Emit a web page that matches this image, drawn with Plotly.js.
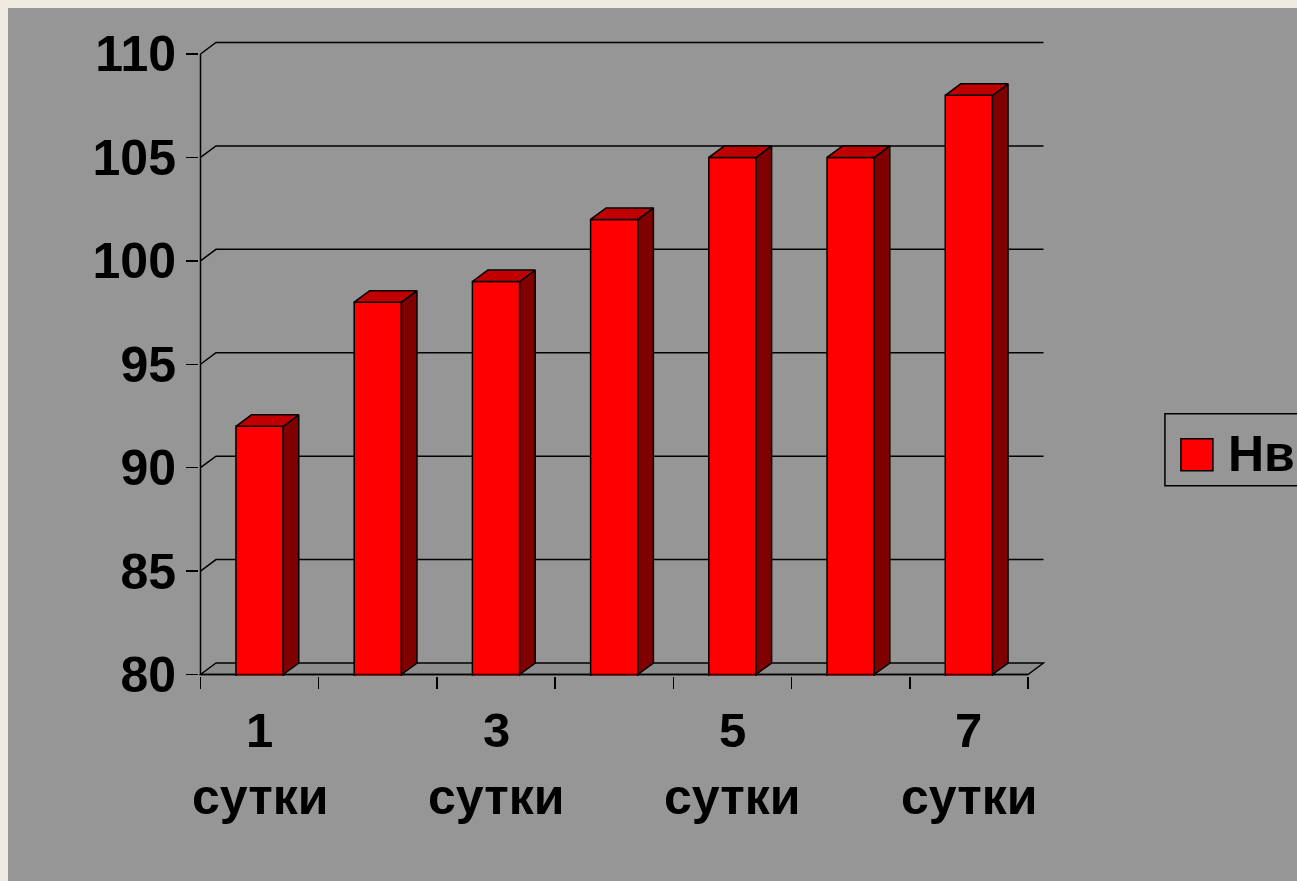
<!DOCTYPE html>
<html>
<head>
<meta charset="utf-8">
<script src="https://cdn.plot.ly/plotly-3.0.1.min.js"></script>
<style>
  html, body { margin: 0; padding: 0; background: #EEECE1; width: 1297px; height: 881px; overflow: hidden; }
  #chart { position: absolute; left: 8px; top: 8px; width: 1289px; height: 873px; }
</style>
</head>
<body>
<div id="chart"></div>
<script>
// ---- data ----
const categories = ['1 сутки', '2 сутки', '3 сутки', '4 сутки', '5 сутки', '6 сутки', '7 сутки'];
const values = [92, 98, 99, 102, 105, 105, 108];
const seriesName = 'Нв';
const yTickValues = [80, 85, 90, 95, 100, 105, 110];
const labelledCategories = [0, 2, 4, 6];

// ---- geometry (page pixels) ----
const OFF = 8, DIV_W = 1289, DIV_H = 873;
const FRONT_LEFT = 200, FRONT_RIGHT = 1028;   // x of category range edges
const Y_BOTTOM = 675, Y_TOP = 54;             // y of min / max tick
const DEPTH_X = 15.5, DEPTH_Y = 11.5, PAD = 1.5;
const FONT = 'Liberation Sans, Arial, sans-serif';

const nCat = categories.length;
const yMin = yTickValues[0], yMax = yTickValues[yTickValues.length - 1];
const unitX = (FRONT_RIGHT - FRONT_LEFT) / nCat;
const unitY = (Y_BOTTOM - Y_TOP) / (yMax - yMin);
const dxu = DEPTH_X / unitX, dyu = DEPTH_Y / unitY;
const x0 = -0.5, x1 = nCat - 0.5;

const leftPage = FRONT_LEFT - PAD, rightPage = FRONT_RIGHT + DEPTH_X + PAD;
const topPage = Y_TOP - DEPTH_Y - PAD, bottomPage = Y_BOTTOM + PAD;
const margin = { l: leftPage - OFF, r: OFF + DIV_W - rightPage, t: topPage - OFF, b: OFF + DIV_H - bottomPage, pad: 0 };
const plotW = rightPage - leftPage, plotH = bottomPage - topPage;
const px = (pageX) => (pageX - leftPage) / plotW;
const py = (pageY) => 1 - (pageY - topPage) / plotH;

const barW = 0.4;
const xs = categories.map((c, i) => i);

// side & top faces built from values
const sideX = [], sideY = [], topX = [], topY = [];
xs.forEach((x, i) => {
  const v = values[i], r = x + barW / 2, l = x - barW / 2;
  sideX.push(r, r + dxu, r + dxu, r, r, null);
  sideY.push(yMin, yMin + dyu, v + dyu, v, yMin, null);
  topX.push(l, r, r + dxu, l + dxu, l, null);
  topY.push(v, v, v + dyu, v + dyu, v, null);
});

const traces = [
  { type: 'bar', name: seriesName, x: xs, y: values, width: barW,
    marker: { color: '#FF0000', line: { color: '#000000', width: 1.5 } },
    hoverinfo: 'x+y', showlegend: false },
  { type: 'scatter', mode: 'lines', x: sideX, y: sideY, fill: 'toself', fillcolor: '#800000',
    line: { color: '#000000', width: 1.5 }, hoverinfo: 'skip', showlegend: false },
  { type: 'scatter', mode: 'lines', x: topX, y: topY, fill: 'toself', fillcolor: '#C00000',
    line: { color: '#000000', width: 1.5 }, hoverinfo: 'skip', showlegend: false }
];

const shapes = [];
// floor
shapes.push({ type: 'path', xref: 'x', yref: 'y', layer: 'below',
  path: `M ${x0} ${yMin} L ${x1} ${yMin} L ${x1 + dxu} ${yMin + dyu} L ${x0 + dxu} ${yMin + dyu} Z`,
  fillcolor: '#8C8C8C', line: { color: '#000000', width: 1.5 } });
// floor front edge on top of bars
shapes.push({ type: 'line', xref: 'x', yref: 'y', layer: 'above',
  x0: x0, y0: yMin, x1: x1, y1: yMin, line: { color: '#000000', width: 1.5 } });
// side wall + back wall gridlines
yTickValues.slice(1).forEach(v => {
  shapes.push({ type: 'path', xref: 'x', yref: 'y', layer: 'below',
    path: `M ${x0} ${v} L ${x0 + dxu} ${v + dyu} L ${x1 + dxu} ${v + dyu}`,
    line: { color: '#000000', width: 1.5 } });
});
// front value axis line
shapes.push({ type: 'line', xref: 'x', yref: 'y', layer: 'above',
  x0: x0, y0: yMin, x1: x0, y1: yMax, line: { color: '#000000', width: 1.5 } });

// legend (drawn box)
shapes.push({ type: 'rect', xref: 'paper', yref: 'paper', x0: px(1165), x1: px(1320), y0: py(486), y1: py(414),
  fillcolor: 'rgba(0,0,0,0)', line: { color: '#000000', width: 1.5 } });
shapes.push({ type: 'rect', xref: 'paper', yref: 'paper', x0: px(1181), x1: px(1213), y0: py(471), y1: py(439),
  fillcolor: '#FF0000', line: { color: '#000000', width: 1.5 } });

const annotations = [];
annotations.push({ xref: 'paper', yref: 'paper', x: px(1226), y: py(454), xanchor: 'left', yanchor: 'middle',
  text: seriesName, showarrow: false, font: { family: FONT, size: 50, color: '#000000', weight: 'bold' } });

labelledCategories.forEach(i => {
  const parts = categories[i].split(' ');
  annotations.push({ xref: 'x', yref: 'paper', x: xs[i], y: py(731), xanchor: 'center', yanchor: 'middle',
    text: parts[0], showarrow: false, font: { family: FONT, size: 49, color: '#000000', weight: 'bold' } });
  annotations.push({ xref: 'x', yref: 'paper', x: xs[i], y: py(798), xanchor: 'center', yanchor: 'middle',
    text: parts[1], showarrow: false, font: { family: FONT, size: 50, color: '#000000', weight: 'bold' } });
});

const tickBounds = [];
for (let k = 0; k <= nCat; k++) tickBounds.push(k - 0.5);

const layout = {
  width: DIV_W, height: DIV_H,
  margin: margin,
  paper_bgcolor: '#969696',
  plot_bgcolor: 'rgba(0,0,0,0)',
  showlegend: false,
  xaxis: {
    type: 'linear', range: [x0 - PAD / unitX, x1 + dxu + PAD / unitX],
    tickmode: 'array', tickvals: tickBounds, ticktext: tickBounds.map(() => ''),
    ticks: 'outside', ticklen: 12, tickwidth: 1.5, tickcolor: '#000000',
    showgrid: false, zeroline: false, showline: false, showticklabels: false, fixedrange: true
  },
  yaxis: {
    range: [yMin - PAD / unitY, yMax + dyu + PAD / unitY],
    tickmode: 'array', tickvals: yTickValues, ticktext: yTickValues.map(String),
    ticks: 'outside', ticklen: 12, tickwidth: 1.5, tickcolor: '#000000',
    tickfont: { family: FONT, size: 50, color: '#000000', weight: 'bold' },
    showgrid: false, zeroline: false, showline: false, fixedrange: true
  },
  shapes: shapes,
  annotations: annotations
};

Plotly.newPlot('chart', traces, layout, { displayModeBar: false, staticPlot: true });
</script>
</body>
</html>
